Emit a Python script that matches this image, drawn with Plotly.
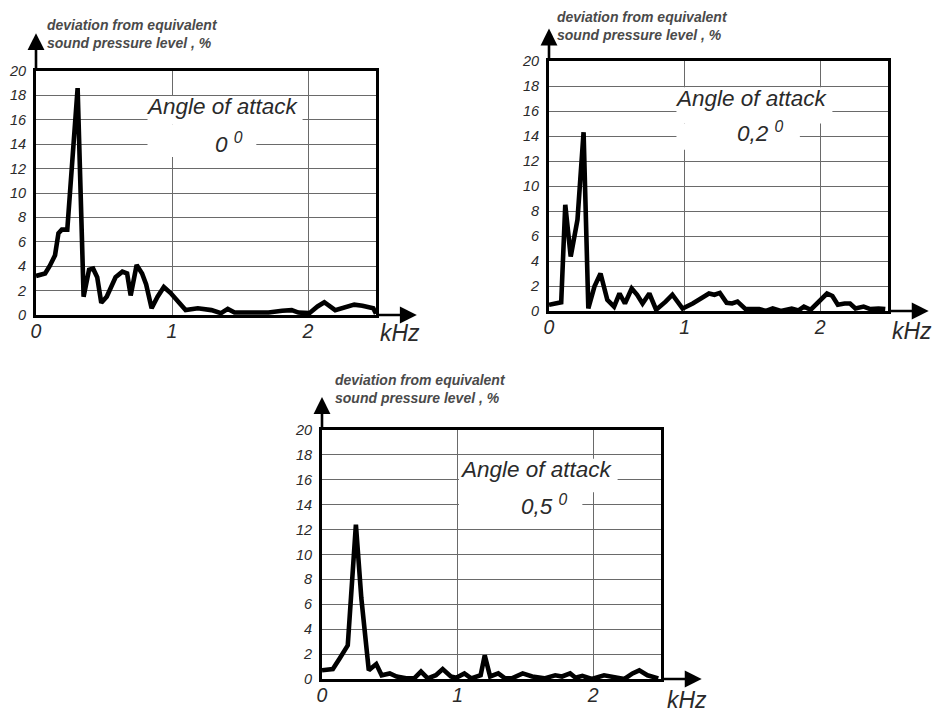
import plotly.graph_objects as go

# ---------------- data ----------------
freq_a0 = [0.0, 0.067, 0.10, 0.14, 0.165, 0.19, 0.23, 0.306, 0.35, 0.39, 0.42, 0.45, 0.48, 0.52,
           0.585, 0.635, 0.67, 0.696, 0.74, 0.78, 0.81, 0.85, 0.894, 0.94, 0.99, 1.10, 1.19, 1.29,
           1.36, 1.41, 1.46, 1.54, 1.71, 1.81, 1.88, 1.93, 2.01, 2.07, 2.12, 2.20, 2.28, 2.34,
           2.40, 2.48, 2.50]
dev_a0 = [3.2, 3.4, 4.0, 4.9, 6.7, 7.0, 7.0, 18.6, 1.5, 3.7, 3.8, 3.1, 1.0, 1.5,
          3.1, 3.55, 3.4, 1.6, 4.1, 3.4, 2.5, 0.55, 1.5, 2.3, 1.8, 0.4, 0.55, 0.4,
          0.15, 0.5, 0.2, 0.2, 0.2, 0.35, 0.4, 0.2, 0.15, 0.7, 1.05, 0.4, 0.7, 0.85,
          0.75, 0.55, 0.1]

freq_a02 = [0.0, 0.09, 0.12, 0.16, 0.21, 0.255, 0.29, 0.335, 0.38, 0.43, 0.48, 0.52, 0.56, 0.61,
            0.65, 0.69, 0.74, 0.79, 0.86, 0.91, 0.985, 1.06, 1.18, 1.22, 1.26, 1.31, 1.35, 1.39,
            1.45, 1.55, 1.60, 1.65, 1.71, 1.79, 1.84, 1.88, 1.93, 1.99, 2.05, 2.09, 2.13, 2.18,
            2.22, 2.26, 2.32, 2.37, 2.43, 2.48]
dev_a02 = [0.5, 0.7, 8.5, 4.35, 7.3, 14.3, 0.2, 1.95, 3.0, 0.9, 0.35, 1.4, 0.6, 1.8,
           1.3, 0.6, 1.4, 0.1, 0.75, 1.3, 0.2, 0.6, 1.4, 1.3, 1.45, 0.65, 0.6, 0.75,
           0.15, 0.15, 0.0, 0.2, 0.0, 0.2, 0.05, 0.35, 0.1, 0.75, 1.4, 1.2, 0.5, 0.6,
           0.6, 0.2, 0.35, 0.15, 0.2, 0.15]

freq_a05 = [0.0, 0.08, 0.13, 0.19, 0.25, 0.29, 0.345, 0.40, 0.44, 0.50, 0.55, 0.62, 0.68, 0.73,
            0.78, 0.84, 0.89, 0.95, 0.99, 1.05, 1.10, 1.17, 1.20, 1.24, 1.30, 1.35, 1.40, 1.48,
            1.55, 1.64, 1.72, 1.77, 1.83, 1.87, 1.92, 1.99, 2.08, 2.15, 2.23, 2.29, 2.34, 2.40,
            2.48]
dev_a05 = [0.7, 0.8, 1.65, 2.7, 12.4, 6.5, 0.7, 1.2, 0.3, 0.45, 0.2, 0.05, 0.05, 0.6,
           0.05, 0.3, 0.8, 0.2, 0.1, 0.45, 0.05, 0.3, 1.9, 0.2, 0.45, 0.05, 0.05, 0.45,
           0.2, 0.05, 0.3, 0.2, 0.45, 0.1, 0.25, 0.0, 0.3, 0.2, 0.0, 0.45, 0.7, 0.3,
           0.05]

y_ticks = [0, 2, 4, 6, 8, 10, 12, 14, 16, 18, 20]
x_ticks = [0, 1, 2]
x_tick_labels = ["0", "1", "2"]
angle_labels = ["0 <sup>0</sup>", "0,2 <sup>0</sup>", "0,5 <sup>0</sup>"]
title_text = "Angle of attack"
y_label = "deviation from equivalent<br>sound pressure level , %"
x_label = "kHz"

# ---------------- layout geometry ----------------
W, H = 934, 711
FONT = "Liberation Sans, Arial, sans-serif"
TXT = "#2a2a2a"

panels = [
    dict(xd=[36 / W, 376 / W], yd=[1 - 315 / H, 1 - 71 / H], fx=freq_a0, dv=dev_a0,
         ang=angle_labels[0], ttl=(1.37, 17.05), angpos=(1.42, 14.1),
         box1=(0.82, 1.96, 15.6, 17.95), box2=(0.82, 1.62, 12.95, 15.6),
         ylab=(45 / W, 1 - 34 / H), klab=(400 / W, 1 - 333 / H), ytop=23.1),
    dict(xd=[549 / W, 888 / W], yd=[1 - 311 / H, 1 - 61 / H], fx=freq_a02, dv=dev_a02,
         ang=angle_labels[1], ttl=(1.49, 17.0), angpos=(1.56, 14.3),
         box1=(0.94, 2.09, 15.0, 17.9), box2=(0.94, 1.85, 12.9, 15.0),
         ylab=(555 / W, 1 - 25.5 / H), klab=(912 / W, 1 - 331 / H), ytop=22.6),
    dict(xd=[322 / W, 661 / W], yd=[1 - 679 / H, 1 - 430 / H], fx=freq_a05, dv=dev_a05,
         ang=angle_labels[2], ttl=(1.58, 16.8), angpos=(1.64, 14.0),
         box1=(1.01, 2.18, 15.0, 17.7), box2=(1.01, 1.92, 13.0, 15.0),
         ylab=(333 / W, 1 - 389 / H), klab=(687 / W, 1 - 700 / H), ytop=22.65),
]

fig = go.Figure()
shapes = []
annotations = []
layout_axes = {}

for i, p in enumerate(panels, start=1):
    xa = "x" if i == 1 else f"x{i}"
    ya = "y" if i == 1 else f"y{i}"
    xkey = "xaxis" if i == 1 else f"xaxis{i}"
    ykey = "yaxis" if i == 1 else f"yaxis{i}"

    fig.add_trace(go.Scatter(x=p["fx"], y=p["dv"], mode="lines", xaxis=xa, yaxis=ya,
                             line=dict(color="black", width=4.6, shape="linear"),
                             showlegend=False, hoverinfo="skip", cliponaxis=False))

    layout_axes[xkey] = dict(domain=p["xd"], anchor=ya, range=[0, 2.5], showgrid=True,
                             gridcolor="#6a6a6a", gridwidth=1, tickvals=x_ticks,
                             ticktext=x_tick_labels, showline=True, linecolor="black",
                             linewidth=3, mirror=True, zeroline=False, ticks="",
                             ticklabelstandoff=-3, automargin=False,
                             tickfont=dict(family=FONT, size=19.5, color=TXT, style="italic"))
    layout_axes[ykey] = dict(domain=p["yd"], anchor=xa, range=[0, 20], showgrid=True,
                             gridcolor="#6a6a6a", gridwidth=1, tickvals=y_ticks,
                             showline=True, linecolor="black", linewidth=3, mirror=True,
                             zeroline=False, ticks="", ticklabelstandoff=4, automargin=False,
                             tickfont=dict(family=FONT, size=14.5, color=TXT, style="italic"))

    # white boxes behind the "Angle of attack" labels (hide grid lines)
    for (x0, x1, y0, y1) in (p["box1"], p["box2"]):
        shapes.append(dict(type="rect", xref=xa, yref=ya, x0=x0, x1=x1, y0=y0, y1=y1,
                           fillcolor="white", line=dict(width=0), layer="between"))

    # axis arrows
    annotations.append(dict(xref=xa, yref=ya, axref=xa, ayref=ya, x=2.8, y=0, ax=2.5, ay=0,
                            showarrow=True, arrowhead=2, arrowsize=1.3, arrowwidth=2.6,
                            arrowcolor="black", text=""))
    annotations.append(dict(xref=xa, yref=ya, axref=xa, ayref=ya, x=0, y=p["ytop"], ax=0, ay=20,
                            showarrow=True, arrowhead=2, arrowsize=1.3, arrowwidth=2.6,
                            arrowcolor="black", text=""))

    # labels inside panel
    annotations.append(dict(xref=xa, yref=ya, x=p["ttl"][0], y=p["ttl"][1], text=title_text,
                            showarrow=False,
                            font=dict(family=FONT, size=22.5, color=TXT, style="italic")))
    annotations.append(dict(xref=xa, yref=ya, x=p["angpos"][0], y=p["angpos"][1], text=p["ang"],
                            showarrow=False,
                            font=dict(family=FONT, size=22.5, color=TXT, style="italic")))

    # axis labels
    annotations.append(dict(xref="paper", yref="paper", x=p["ylab"][0], y=p["ylab"][1],
                            xanchor="left", yanchor="middle", align="left", text=y_label,
                            showarrow=False,
                            font=dict(family=FONT, size=14, color="#4a4a4a", style="italic",
                                      weight="bold")))
    annotations.append(dict(xref="paper", yref="paper", x=p["klab"][0], y=p["klab"][1],
                            xanchor="center", yanchor="middle", text=x_label, showarrow=False,
                            font=dict(family=FONT, size=23, color=TXT, style="italic")))

fig.update_layout(width=W, height=H, margin=dict(l=0, r=0, t=0, b=0, autoexpand=False),
                  paper_bgcolor="white", plot_bgcolor="white",
                  shapes=shapes, annotations=annotations, **layout_axes)

fig.write_html("out.html", config={"displayModeBar": False},
               post_script="document.body.style.margin='0';document.body.style.overflow='hidden';")
